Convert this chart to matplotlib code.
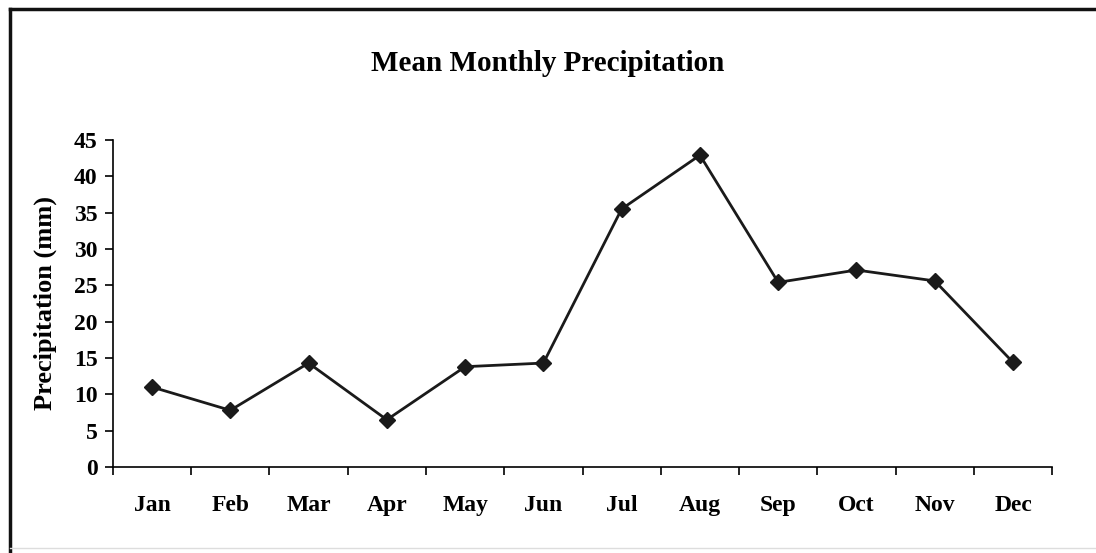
import matplotlib
matplotlib.use("Agg")
import matplotlib.pyplot as plt
from matplotlib.lines import Line2D

months = ['Jan', 'Feb', 'Mar', 'Apr', 'May', 'Jun',
          'Jul', 'Aug', 'Sep', 'Oct', 'Nov', 'Dec']
precip = [11.0, 7.8, 14.3, 6.5, 13.8, 14.3, 35.5, 42.9, 25.4, 27.1, 25.6, 14.4]
yticks = [0, 5, 10, 15, 20, 25, 30, 35, 40, 45]

plt.rcParams['font.family'] = ['Liberation Serif', 'DejaVu Serif']
plt.rcParams['font.weight'] = 'bold'

fig = plt.figure(figsize=(10.96, 5.53), dpi=100)
ax = fig.add_axes([0.103, 0.1555, 0.857, 0.5915])

x = list(range(len(months)))
ax.plot(x, precip, color='#1a1a1a', lw=2, marker='D', ms=8, mfc='#1a1a1a', mec='#1a1a1a')

ax.set_xlim(-0.5, len(months) - 0.5)
ax.set_ylim(0, 45)
ax.set_yticks(yticks)
ax.set_yticklabels([str(v) for v in yticks], fontsize=17, fontweight='bold')
ax.set_xticks([i - 0.5 for i in range(len(months) + 1)])
ax.set_xticklabels([])
ax.set_xticks(x, minor=True)
ax.set_xticklabels(months, minor=True, fontsize=17, fontweight='bold')
ax.tick_params(axis='x', which='minor', length=0, pad=20)
ax.tick_params(axis='x', which='major', direction='out', length=6, width=1.2)
ax.tick_params(axis='y', direction='out', length=6, width=1.2, pad=5)

for s in ['top', 'right']:
    ax.spines[s].set_visible(False)
ax.spines['left'].set_linewidth(1.2)
ax.spines['bottom'].set_linewidth(1.2)

ax.set_ylabel('Precipitation (mm)', fontsize=19, fontweight='bold', labelpad=12)
fig.text(0.5, 0.886, 'Mean Monthly Precipitation', ha='center', va='center',
         fontsize=21, fontweight='bold')

# frame: heavy top and left edges, faint bottom edge
fig.add_artist(Line2D([0.009, 1.0], [0.984, 0.984], transform=fig.transFigure, color='#111111', lw=2.5))
fig.add_artist(Line2D([0.009, 0.009], [0.0, 0.984], transform=fig.transFigure, color='#111111', lw=2.5))
fig.add_artist(Line2D([0.009, 1.0], [0.009, 0.009], transform=fig.transFigure, color='#dddddd', lw=1))

fig.savefig('out.png', dpi=100)
